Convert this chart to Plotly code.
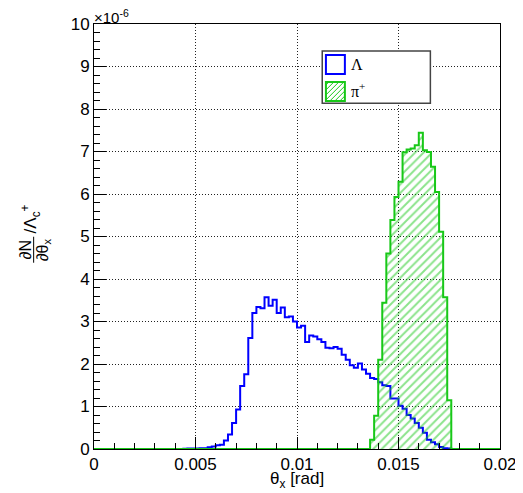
import numpy as np
import plotly.graph_objects as go

# ---------------- data (values in units of 1e-6) ----------------
x_min, x_max, n_bins = 0.0, 0.02, 100

lambda_counts = [0.0] * 22 + [
    0.005, 0.01, 0.01, 0.01, 0.02, 0.02, 0.04, 0.06, 0.09, 0.1,
    0.2, 0.34, 0.61, 0.93, 1.48, 1.76, 2.61, 3.2, 3.34, 3.31,
    3.57, 3.37, 3.51, 3.2, 3.33, 3.1, 3.12, 3.0, 2.86, 2.9,
    2.52, 2.67, 2.65, 2.58, 2.52, 2.38, 2.37, 2.4, 2.36, 2.22,
    2.1, 1.97, 1.91, 2.01, 1.87, 1.77, 1.67, 1.65, 1.57, 1.5,
    1.48, 1.19, 1.19, 1.02, 0.95, 0.8, 0.72, 0.61, 0.5, 0.38,
    0.22, 0.16, 0.11, 0.05, 0.02, 0.01] + [0.0] * 12

pion_counts = [0.0] * 68 + [
    0.22, 0.78, 2.1, 3.44, 4.6, 5.39, 5.93, 6.29, 6.98, 7.05,
    7.07, 7.15, 7.44, 7.03, 6.99, 6.64, 6.05, 5.11, 3.57, 1.15] + [0.0] * 12

x_tick_vals = [0, 0.005, 0.01, 0.015, 0.02]
x_tick_labels = ["0", "0.005", "0.01", "0.015", "0.02"]
y_tick_vals = list(range(0, 11))
y_tick_labels = [str(v) for v in y_tick_vals]

series_names = ["Λ", "π<sup>+</sup>"]
# -----------------------------------------------------------------

assert len(lambda_counts) == n_bins and len(pion_counts) == n_bins
edges = np.linspace(x_min, x_max, n_bins + 1)

BLUE = "#0000ff"
GREEN = "#18c818"
FONT = "Liberation Sans, Arial, Helvetica, sans-serif"
SERIF = "Liberation Serif, Times New Roman, serif"

fig = go.Figure()

fig.add_trace(go.Scatter(
    x=edges, y=list(lambda_counts) + [lambda_counts[-1]],
    mode="lines", line=dict(color=BLUE, width=2, shape="hv"),
    name=series_names[0], showlegend=False, hoverinfo="skip"))

fig.add_trace(go.Scatter(
    x=edges, y=list(pion_counts) + [pion_counts[-1]],
    mode="lines", line=dict(color=GREEN, width=2, shape="hv"),
    fill="tozeroy", fillcolor="rgba(0,0,0,0)",
    fillpattern=dict(shape="/", fgcolor=GREEN, bgcolor="rgba(0,0,0,0)",
                     size=6, solidity=0.33),
    name=series_names[1], showlegend=False, hoverinfo="skip"))

# The page body has an 8px margin; the figure is sized/margined so the
# plot area lands at the reference's window pixels.
OFF = 8
W, H = 523 - OFF, 493 - OFF
L, R, T, B = 93.5, 500.5, 24, 449.5   # window pixel coords of plot area


def px(xp):
    return (xp - L) / (R - L)


def py(yp):
    return (B - yp) / (B - T)


shapes = []
annotations = []

# legend box
shapes.append(dict(type="rect", xref="paper", yref="paper",
                   x0=px(322.3), x1=px(430.7), y0=py(103.3), y1=py(51),
                   line=dict(color="#444444", width=1.5), fillcolor="white",
                   layer="above"))
# blue swatch
shapes.append(dict(type="rect", xref="paper", yref="paper",
                   x0=px(326), x1=px(345), y0=py(74), y1=py(55),
                   line=dict(color=BLUE, width=2), fillcolor="white",
                   layer="above"))
# green swatch with hatching
gx0, gx1, gy0, gy1 = 326, 345, 82, 101  # pixel coords (y down)
path = ""
step = 5.0
c = -(gx1 - gx0)
while c < (gy1 - gy0):
    w = gx1 - gx0
    h = gy1 - gy0
    u0 = max(0.0, -c)
    u1 = min(w, h - c)
    if u1 > u0:
        xa, ya = gx0 + u0, gy1 - (u0 + c)
        xb, yb = gx0 + u1, gy1 - (u1 + c)
        path += f"M{px(xa)},{py(ya)} L{px(xb)},{py(yb)} "
    c += step
shapes.append(dict(type="path", xref="paper", yref="paper", path=path,
                   line=dict(color=GREEN, width=1), layer="above"))
shapes.append(dict(type="rect", xref="paper", yref="paper",
                   x0=px(326), x1=px(345), y0=py(101), y1=py(82),
                   line=dict(color=GREEN, width=2), layer="above"))

annotations.append(dict(xref="paper", yref="paper", x=px(349), y=py(65),
                        text=series_names[0], showarrow=False,
                        xanchor="left", yanchor="middle",
                        font=dict(family=SERIF, size=16, color="black")))
annotations.append(dict(xref="paper", yref="paper", x=px(349), y=py(90),
                        text=series_names[1], showarrow=False,
                        xanchor="left", yanchor="middle",
                        font=dict(family=SERIF, size=16, color="black")))

# exponent label
annotations.append(dict(xref="paper", yref="paper", x=0, y=1,
                        text="×10<sup>-6</sup>", showarrow=False,
                        xanchor="left", yanchor="bottom", xshift=-2, yshift=-4,
                        font=dict(family=FONT, size=15, color="black")))

# x-axis title
annotations.append(dict(xref="paper", yref="paper", x=0.5, y=py(481),
                        text="θ<sub>x</sub> [rad]", showarrow=False,
                        xanchor="center", yanchor="middle",
                        font=dict(family=FONT, size=17, color="black")))

# y-axis title: fraction dN/dθx / Λc+
annotations.append(dict(xref="paper", yref="paper", x=px(25), y=py(250),
                        text="∂N", showarrow=False, textangle=-90,
                        xanchor="center", yanchor="middle",
                        font=dict(family=FONT, size=16, color="black")))
annotations.append(dict(xref="paper", yref="paper", x=px(43), y=py(250),
                        text="∂θ<sub>x</sub>", showarrow=False, textangle=-90,
                        xanchor="center", yanchor="middle",
                        font=dict(family=FONT, size=16, color="black")))
shapes.append(dict(type="line", xref="paper", yref="paper",
                   x0=px(33), x1=px(33), y0=py(237), y1=py(263),
                   line=dict(color="black", width=1)))
annotations.append(dict(xref="paper", yref="paper", x=px(30), y=py(219),
                        text="/Λ<sub>c</sub><sup>+</sup>", showarrow=False,
                        textangle=-90, xanchor="center", yanchor="middle",
                        font=dict(family=FONT, size=17, color="black")))

axis_common = dict(
    showline=True, linecolor="black", linewidth=1, mirror=True,
    ticks="inside", tickcolor="black", tickwidth=1, ticklen=12,
    showgrid=True, gridcolor="#222222", griddash="1px,2px", gridwidth=1,
    zeroline=False, automargin=False,
    tickfont=dict(family=FONT, size=17, color="black"),
)

fig.update_layout(
    width=W, height=H,
    margin=dict(l=L - OFF, r=(W + OFF) - R, t=T - OFF, b=(H + OFF) - B, pad=0),
    paper_bgcolor="white", plot_bgcolor="white",
    showlegend=False,
    shapes=shapes, annotations=annotations,
    xaxis=dict(range=[x_min, x_max], tickvals=x_tick_vals,
               ticktext=x_tick_labels,
               minor=dict(ticks="inside", ticklen=6, tickcolor="black",
                          dtick=0.001, showgrid=False),
               **axis_common),
    yaxis=dict(range=[0, 10], tickvals=y_tick_vals, ticktext=y_tick_labels,
               minor=dict(ticks="inside", ticklen=6, tickcolor="black",
                          dtick=0.2, showgrid=False),
               **axis_common),
)

fig.write_html("out.html")
